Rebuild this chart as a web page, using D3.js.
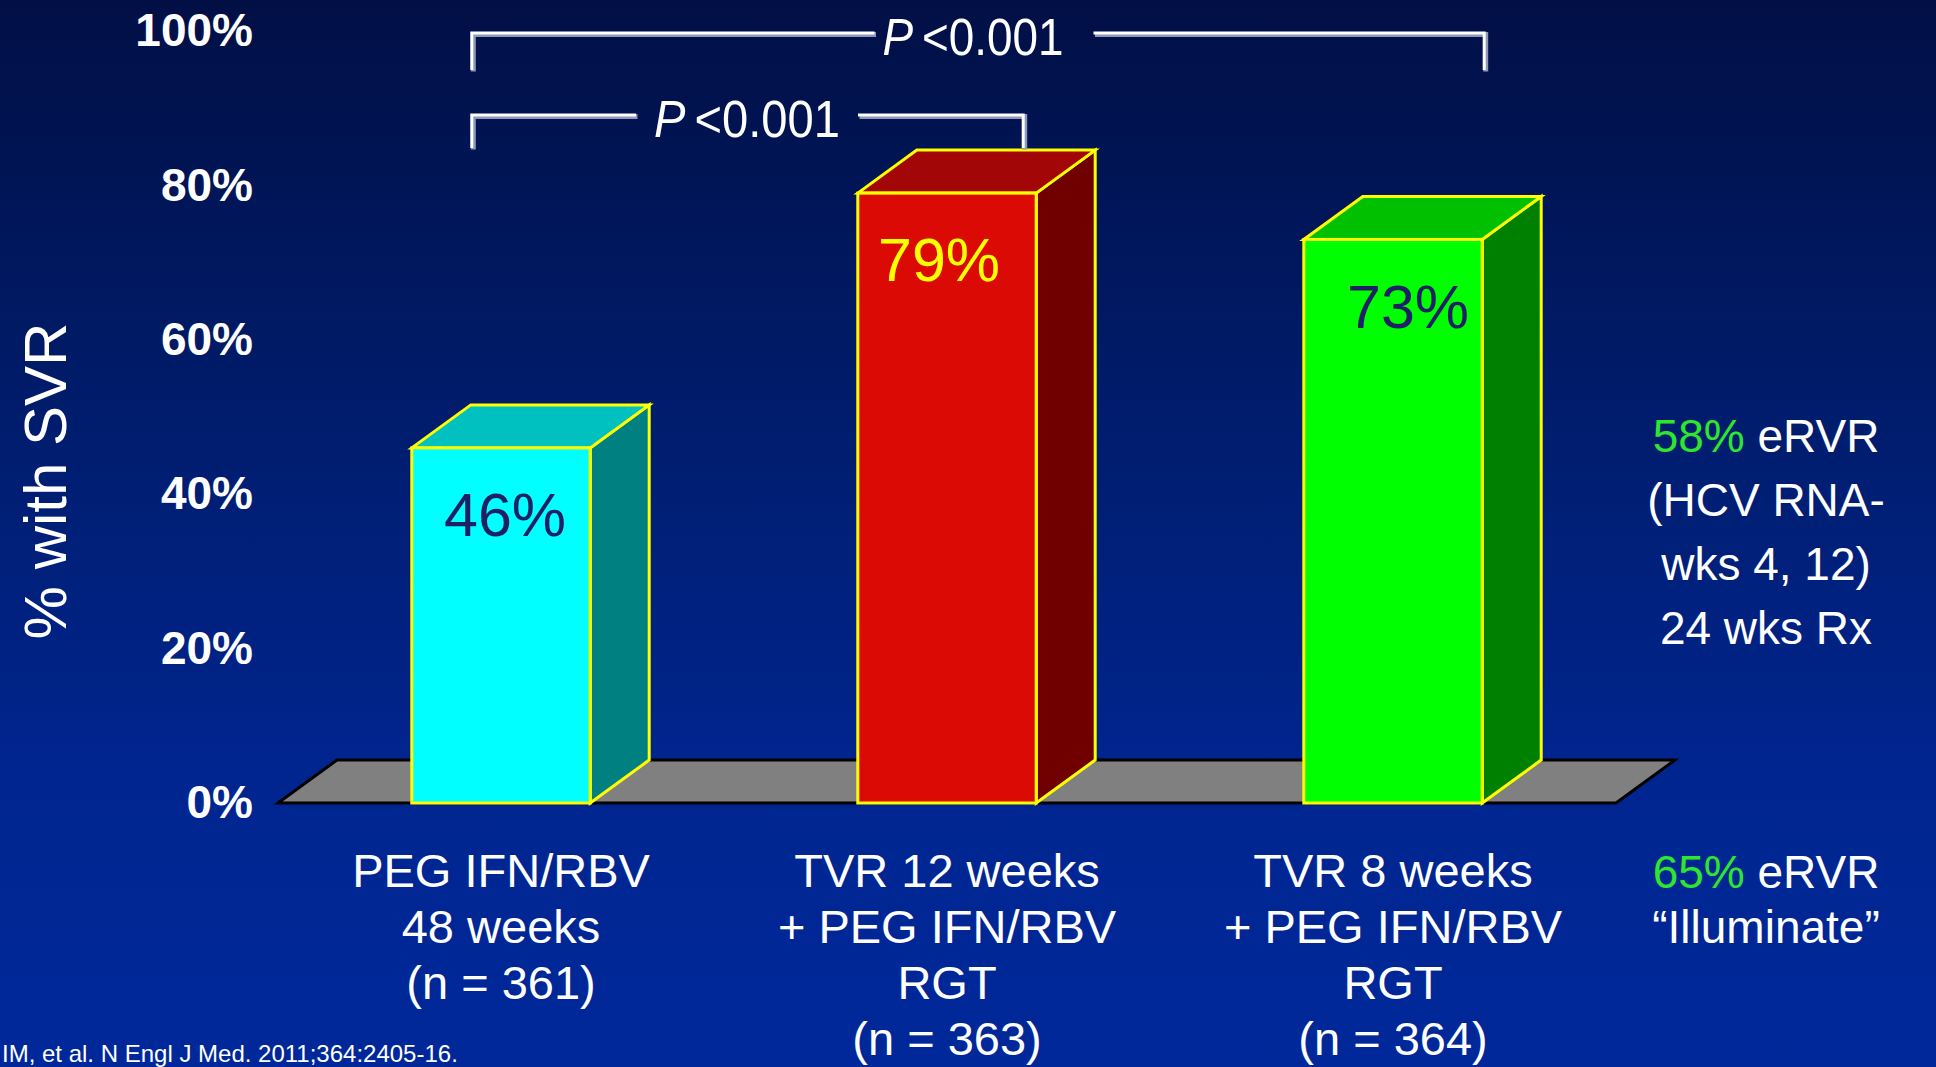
<!DOCTYPE html>
<html>
<head>
<meta charset="utf-8">
<script src="https://cdn.jsdelivr.net/npm/d3@7"></script>
<style>
  html, body { margin: 0; padding: 0; background: #001a66; }
  svg { display: block; }
  text { font-family: "Liberation Sans", Arial, Helvetica, sans-serif; }
</style>
</head>
<body>
<svg id="chart" width="1936" height="1067"></svg>
<script>
// Sustained virologic response by treatment arm
const categories = ["PEG IFN/RBV 48 weeks", "TVR 12 weeks + PEG IFN/RBV RGT", "TVR 8 weeks + PEG IFN/RBV RGT"];
const categoryLines = [
  ["PEG IFN/RBV", "48 weeks", "(n = 361)"],
  ["TVR 12 weeks", "+ PEG IFN/RBV", "RGT", "(n = 363)"],
  ["TVR 8 weeks", "+ PEG IFN/RBV", "RGT", "(n = 364)"]
];
const svrValues = [46, 79, 73];
const yTicks = [0, 20, 40, 60, 80, 100];
const frontColors = ["#00ffff", "#dc0a04", "#00ff00"];
const topColors = ["#00c0c0", "#a30606", "#00c000"];
const sideColors = ["#008080", "#700000", "#008000"];
const labelColors = ["#1f1f66", "#ffff00", "#1f1f66"];
const comparisons = [
  { from: 0, to: 2, p: "<0.001" },
  { from: 0, to: 1, p: "<0.001" }
];
const noteTop = [["58%", " eRVR"], ["", "(HCV RNA-"], ["", "wks 4, 12)"], ["", "24 wks Rx"]];
const noteBottom = [["65%", " eRVR"], ["", "\u201cIlluminate\u201d"]];
const citation = "IM, et al. N Engl J Med. 2011;364:2405-16.";

const svg = d3.select("#chart");
const W = 1936, H = 1067;

// background gradient
const defs = svg.append("defs");
const grad = defs.append("linearGradient").attr("id", "bg").attr("x1", 0).attr("y1", 0).attr("x2", 0).attr("y2", 1);
grad.append("stop").attr("offset", "0").attr("stop-color", "#010f45");
grad.append("stop").attr("offset", "0.35").attr("stop-color", "#001b68");
grad.append("stop").attr("offset", "0.72").attr("stop-color", "#00258f");
grad.append("stop").attr("offset", "1").attr("stop-color", "#00289a");
svg.append("rect").attr("width", W).attr("height", H).attr("fill", "url(#bg)");

// scales
const x = d3.scaleBand().domain(categories).range([278, 1616]).paddingInner(0.6).paddingOuter(0.3);
const y = d3.scaleLinear().domain([0, 100]).range([803, 31]);
const bw = x.bandwidth();
const dx = 59, dy = -43;
const y0 = y(0);
const labelShift = [4, -8, 15];

// y axis tick labels
const yAxis = d3.axisLeft(y).tickValues(yTicks).tickFormat(d => d + "%").tickSize(0).tickPadding(0);
const gy = svg.append("g").attr("transform", "translate(253,0)").call(yAxis);
gy.select(".domain").remove();
gy.selectAll("text")
  .attr("fill", "#ffffff")
  .style("font-size", "46px")
  .style("font-weight", "bold")
  .style("font-family", "'Liberation Sans', Arial, sans-serif");

// y axis title
svg.append("text")
  .attr("transform", "translate(66,481) rotate(-90)")
  .attr("text-anchor", "middle")
  .attr("fill", "#ffffff")
  .style("font-size", "60px")
  .text("% with SVR");

// floor
const [r0, r1] = x.range();
svg.append("polygon")
  .attr("points", [[r0, y0], [r1, y0], [r1 + dx, y0 + dy], [r0 + dx, y0 + dy]].map(p => p.join(",")).join(" "))
  .attr("fill", "#808080")
  .attr("stroke", "#000000")
  .attr("stroke-width", 3)
  .attr("stroke-linejoin", "miter");

// 3D bars
const bars = svg.append("g").selectAll("g").data(svrValues).join("g");
bars.each(function (v, i) {
  const g = d3.select(this);
  const bx = x(categories[i]);
  const yv = y(v);
  const pts = a => a.map(p => p.join(",")).join(" ");
  g.append("polygon")
    .attr("points", pts([[bx + bw, yv], [bx + bw + dx, yv + dy], [bx + bw + dx, y0 + dy], [bx + bw, y0]]))
    .attr("fill", sideColors[i]).attr("stroke", "#ffff00").attr("stroke-width", 3).attr("stroke-linejoin", "miter");
  g.append("polygon")
    .attr("points", pts([[bx, yv], [bx + dx, yv + dy], [bx + bw + dx, yv + dy], [bx + bw, yv]]))
    .attr("fill", topColors[i]).attr("stroke", "#ffff00").attr("stroke-width", 3).attr("stroke-linejoin", "miter");
  g.append("rect")
    .attr("x", bx).attr("y", yv).attr("width", bw).attr("height", y0 - yv)
    .attr("fill", frontColors[i]).attr("stroke", "#ffff00").attr("stroke-width", 3);
  g.append("text")
    .attr("x", bx + bw / 2 + labelShift[i])
    .attr("y", yv + 67)
    .attr("dy", "0.35em")
    .attr("text-anchor", "middle")
    .attr("fill", labelColors[i])
    .style("font-size", "61px")
    .text(v + "%");
});

// category labels
categoryLines.forEach((lines, i) => {
  const cx = x(categories[i]) + bw / 2;
  const t = svg.append("text")
    .attr("text-anchor", "middle")
    .attr("fill", "#ffffff")
    .style("font-size", "47px");
  lines.forEach((ln, j) => {
    t.append("tspan").attr("x", cx).attr("y", 887 + j * 56).text(ln);
  });
});

// significance brackets
const bracketLevels = [{ yLine: 33, leg: 37, pad: [8, 30], textLen: 181 },
                       { yLine: 115, leg: 33, pad: [18, 18], textLen: 186 }];
comparisons.forEach((c, k) => {
  const lv = bracketLevels[k];
  const xl = x(categories[c.from]) + dx + 1;
  const xr = k === 0 ? x(categories[c.to]) + bw + 2 : x(categories[c.to]) + bw - 13;
  const cx = k === 0 ? 973 : 747;
  const g = svg.append("g");
  const tl = cx - lv.textLen / 2 - lv.pad[0];
  const tr = cx + lv.textLen / 2 + lv.pad[1];
  const segs = [
    [[xl, lv.yLine + lv.leg], [xl, lv.yLine], [tl, lv.yLine]],
    [[tr, lv.yLine], [xr, lv.yLine], [xr, lv.yLine + lv.leg]]
  ];
  const line = d3.line();
  segs.forEach(s => {
    g.append("path").attr("d", line(s.map(p => [p[0] + 1.5, p[1] + 1.5])))
      .attr("fill", "none").attr("stroke", "#8f98b8").attr("stroke-width", 5);
    g.append("path").attr("d", line(s))
      .attr("fill", "none").attr("stroke", "#ffffff").attr("stroke-width", 3);
  });
  const t = g.append("text")
    .attr("x", cx - lv.textLen / 2)
    .attr("y", lv.yLine + 22)
    .attr("fill", "#ffffff")
    .attr("textLength", lv.textLen)
    .attr("lengthAdjust", "spacingAndGlyphs")
    .style("font-size", "52px");
  t.append("tspan").style("font-style", "italic").text("P");
  t.append("tspan").attr("dx", 10).text(c.p);
});

// side notes
function note(rows, yStart) {
  const t = svg.append("text")
    .attr("text-anchor", "middle")
    .attr("fill", "#ffffff")
    .style("font-size", "46px");
  rows.forEach((r, j) => {
    const ts = t.append("tspan").attr("x", 1766).attr("y", yStart + j * 64);
    if (r[0]) ts.append("tspan").attr("fill", "#2ee62e").text(r[0]);
    ts.append("tspan").text(r[1]);
  });
}
note(noteTop, 452);
svg.append("text")
  .attr("x", 1766).attr("y", 888).attr("text-anchor", "middle").attr("fill", "#ffffff").style("font-size", "46px")
  .call(t => { t.append("tspan").attr("fill", "#2ee62e").text(noteBottom[0][0]); t.append("tspan").text(noteBottom[0][1]); });
svg.append("text")
  .attr("x", 1766).attr("y", 943).attr("text-anchor", "middle").attr("fill", "#ffffff").style("font-size", "46px")
  .text(noteBottom[1][1]);

// citation along the bottom edge
svg.append("text")
  .attr("x", 2).attr("y", 1062)
  .attr("fill", "#ffffff")
  .style("font-size", "24px")
  .text(citation);
</script>
</body>
</html>
